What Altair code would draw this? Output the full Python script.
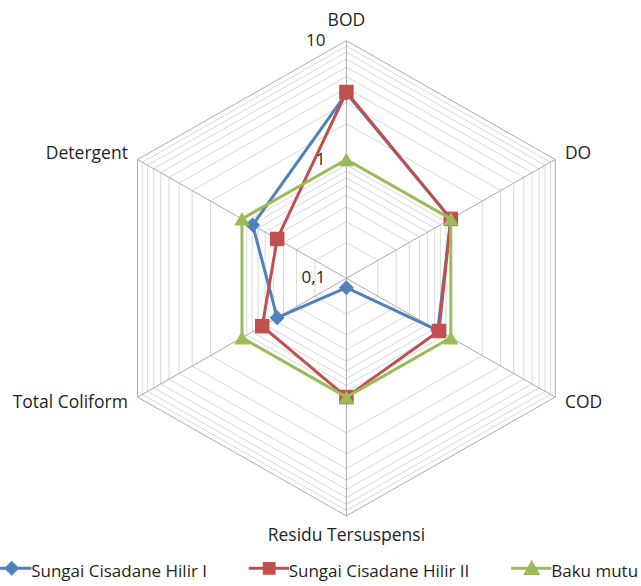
import altair as alt
import pandas as pd

# ---- chart values -------------------------------------------------------
categories = ["BOD", "DO", "COD", "Residu Tersuspensi", "Total Coliform", "Detergent"]
series_names = ["Sungai Cisadane Hilir I", "Sungai Cisadane Hilir II", "Baku mutu"]
hilir_1 = [3.6, 1.0, 0.75, 0.12, 0.46, 0.79]
hilir_2 = [3.7, 1.0, 0.77, 1.0, 0.64, 0.46]
baku_mutu = [1.0, 1.0, 1.0, 1.0, 1.0, 1.0]
tick_values = [0.1, 1, 10]
tick_labels = ["0,1", "1", "10"]

# ---- styling --------------------------------------------------------------
series_colors = ["#4F81BD", "#C0504D", "#9BBB59"]
marker_shapes = ["diamond", "square", "triangle-up"]
marker_sizes = [225, 210, 240]
FONT = "Open Sans"
TEXT_COLOR = "#1F1F1F"

W, H = 641, 586
CX, CY = 346.4, 278.3   # centre of the radar inside the view
R = 237.6               # radius of the outermost ring (value 10)
XSTRETCH = 1.015        # the plot area is drawn slightly wider than tall

xs = alt.Scale(domain=[-CX / XSTRETCH, (W - CX) / XSTRETCH], nice=False, zero=False)
ys = alt.Scale(domain=[-(H - CY), CY], nice=False, zero=False)

# log10 radial axis from 0.1 (centre) to 10 (outer ring), spokes every 60 degrees
RADIUS = f"(log(datum.v) / LN10 + 1) / 2 * {R}"
ANGLE = "datum.k * PI / 3"


def polar(chart):
    return (
        chart.transform_calculate(a=ANGLE)
        .transform_calculate(r=RADIUS)
        .transform_calculate(x="datum.r * sin(datum.a)")
        .transform_calculate(y="datum.r * cos(datum.a)")
    )


X = alt.X("x:Q", scale=xs, axis=None)
Y = alt.Y("y:Q", scale=ys, axis=None)

# ---- grid -----------------------------------------------------------------
minor_levels = [m * 10.0 ** e for e in (-1, 0) for m in range(2, 10)]
major_levels = [1.0, 10.0]
grid_df = pd.DataFrame(
    [{"level": lv, "k": k, "v": lv, "major": lv in major_levels}
     for lv in minor_levels + major_levels for k in range(7)]
)

minor_rings = polar(alt.Chart(grid_df)).transform_filter("!datum.major").mark_line(
    color="#D9D9D9", strokeWidth=1
).encode(x=X, y=Y, detail="level:N", order="k:Q")

major_rings = polar(alt.Chart(grid_df)).transform_filter("datum.major").mark_line(
    color="#ABABAB", strokeWidth=1
).encode(x=X, y=Y, detail="level:N", order="k:Q")

spoke_df = pd.DataFrame({"k": list(range(len(categories))), "v": [10.0] * len(categories)})
spokes = polar(alt.Chart(spoke_df)).transform_calculate(o="0").mark_rule(
    color="#ABABAB", strokeWidth=1
).encode(x=alt.X("o:Q", scale=xs, axis=None), y=alt.Y("o:Q", scale=ys, axis=None),
         x2="x:Q", y2="y:Q")

# ---- radial tick labels ---------------------------------------------------
tick_df = pd.DataFrame({"v": tick_values, "label": tick_labels, "k": 0})
ticks = polar(alt.Chart(tick_df)).mark_text(
    align="right", baseline="middle", dx=-21, font=FONT, fontSize=17, color=TEXT_COLOR
).encode(x=X, y=Y, text="label:N")

# ---- category labels ------------------------------------------------------
cat_df = pd.DataFrame({"category": categories, "k": list(range(len(categories))),
                       "v": [10.0] * len(categories)})


def category_text(filter_expr, align):
    return (
        alt.Chart(cat_df)
        .transform_calculate(a=ANGLE)
        .transform_calculate(r=RADIUS)
        .transform_calculate(s="sin(datum.a)")
        .transform_filter(filter_expr)
        .transform_calculate(lx="(datum.r + 11) * sin(datum.a)")
        .transform_calculate(
            ly="datum.r * cos(datum.a) + cos(datum.a) * (abs(sin(datum.a)) > 0.1 ? 12 : 20)")
        .mark_text(align=align, baseline="middle", font=FONT, fontSize=17.5, color=TEXT_COLOR)
        .encode(x=alt.X("lx:Q", scale=xs, axis=None), y=alt.Y("ly:Q", scale=ys, axis=None),
                text="category:N")
    )


cat_labels = [
    category_text("datum.s > 0.1", "left"),
    category_text("datum.s < -0.1", "right"),
    category_text("abs(datum.s) <= 0.1", "center"),
]

# ---- series ---------------------------------------------------------------
rows = []
for name, vals in zip(series_names, [hilir_1, hilir_2, baku_mutu]):
    for k in range(len(categories) + 1):      # repeat the first spoke to close the polygon
        rows.append({"series": name, "k": k, "v": vals[k % len(categories)]})
series_df = pd.DataFrame(rows)

series_layers = []
for name, col, shp, size in zip(series_names, series_colors, marker_shapes, marker_sizes):
    base = polar(alt.Chart(series_df)).transform_filter(alt.datum.series == name)
    series_layers.append(
        base.mark_line(color=col, strokeWidth=3, strokeJoin="round")
        .encode(x=X, y=Y, order="k:Q")
    )
    series_layers.append(
        base.transform_filter(f"datum.k < {len(categories)}")
        .mark_point(filled=True, opacity=1, color=col, shape=shp, size=size)
        .encode(x=X, y=Y)
    )

# ---- legend (line + marker glyphs; 1 path unit = 18 px) -------------------
legend_glyphs = [
    "M-1.14,-0.22H1.1M-0.3,-0.22L0,-0.52L0.3,-0.22L0,0.08Z",
    "M-1.14,-0.22H1.1M-0.27,-0.49H0.27V0.05H-0.27Z",
    "M-1.14,-0.22H1.1M0,-0.52L0.33,0.07L-0.33,0.07Z",
]
legend_cfg = alt.Legend(
    title=None, orient="none", legendX=-7.8, legendY=552.5, direction="horizontal",
    columnPadding=34.5, padding=0, labelFont=FONT, labelFontSize=17, labelColor=TEXT_COLOR,
    labelOffset=0, labelLimit=400, symbolSize=1296, symbolStrokeWidth=3, symbolOpacity=1,
)
legend_layer = (
    alt.Chart(pd.DataFrame({"series": series_names}))
    .transform_filter("false")
    .mark_point(filled=True, opacity=1, strokeWidth=3)
    .encode(
        color=alt.Color("series:N", scale=alt.Scale(domain=series_names, range=series_colors),
                        legend=legend_cfg),
        stroke=alt.Stroke("series:N", scale=alt.Scale(domain=series_names, range=series_colors),
                          legend=legend_cfg),
        shape=alt.Shape("series:N", scale=alt.Scale(domain=series_names, range=legend_glyphs),
                        legend=legend_cfg),
    )
)

chart = alt.layer(
    minor_rings, major_rings, spokes, *series_layers, ticks, *cat_labels, legend_layer
).properties(
    width=W, height=H, padding=0, autosize=alt.AutoSizeParams(type="none")
).configure_view(stroke=None)

chart.save("out.html", embed_options={"renderer": "svg", "actions": False})
